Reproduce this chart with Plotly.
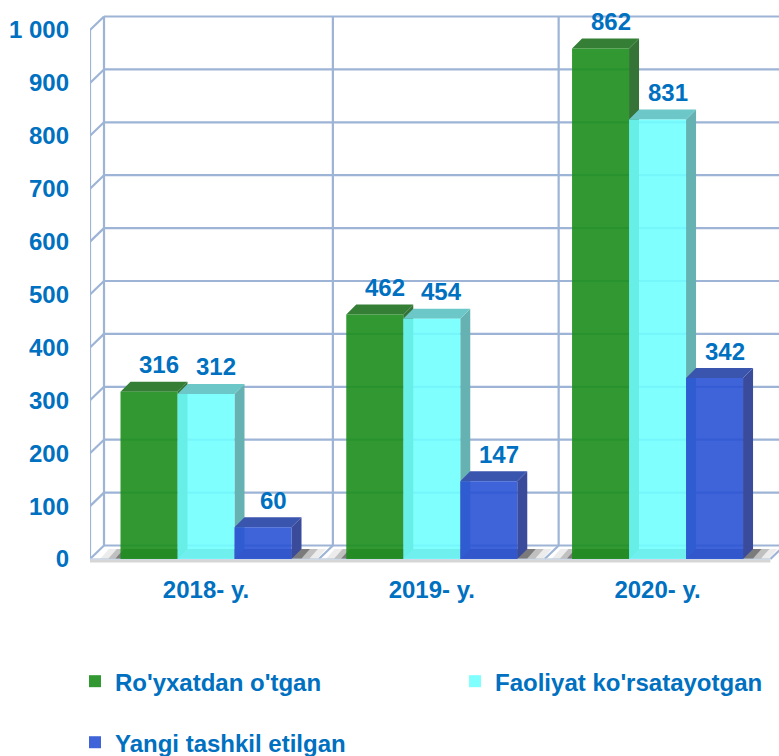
import plotly.graph_objects as go

# ---------------- data ----------------
categories = ["2018- y.", "2019- y.", "2020- y."]
series_names = ["Ro'yxatdan o'tgan", "Faoliyat ko'rsatayotgan", "Yangi tashkil etilgan"]

# bar heights as drawn in the picture
registered = [316, 462, 965]
active = [312, 454, 831]
new_created = [60, 147, 342]

# data labels as printed in the picture
registered_labels = ["316", "462", "862"]
active_labels = ["312", "454", "831"]
new_labels = ["60", "147", "342"]

y_ticks = [0, 100, 200, 300, 400, 500, 600, 700, 800, 900, 1000]
y_tick_text = ["0", "100", "200", "300", "400", "500", "600", "700", "800", "900", "1 000"]

# ---------------- styling / geometry ----------------
TEXT_COLOR = "#0070C0"
GRID_COLOR = "#9DB4D6"
FONT = "Liberation Sans, Arial, sans-serif"
FS = 24

W, H = 779, 756
M_L, M_R, M_T, M_B = 90, 0, 5, 191
X_RANGE = [-0.5138, 2.538]
Y_RANGE = [-11.34, 1047.3]
px_x = (W - M_L - M_R) / (X_RANGE[1] - X_RANGE[0])
px_y = (H - M_T - M_B) / (Y_RANGE[1] - Y_RANGE[0])

BAR_W = 57 / px_x
BAR_GAP = 1 - 3 * BAR_W
bdx, bdy = 10 / px_x, 10 / px_y          # bar depth
wdx, wdy = 14 / px_x, 13.5 / px_y        # wall depth

series = [
    dict(name=series_names[0], vals=registered, labels=registered_labels,
         front="rgba(28,142,28,0.9)", top="#347E36", side="#367336", legend="legend"),
    dict(name=series_names[1], vals=active, labels=active_labels,
         front="rgba(110,255,255,0.88)", top="#6CC8C8", side="#66B2B2", legend="legend2"),
    dict(name=series_names[2], vals=new_created, labels=new_labels,
         front="rgba(42,82,212,0.9)", top="#3A55AE", side="#3B4B9C", legend="legend3"),
]

fig = go.Figure()
shapes = []
annotations = []


def path(points):
    return "M " + " L ".join(f"{x},{y}" for x, y in points) + " Z"


def line(x0, y0, x1, y1, color=GRID_COLOR, width=2.2, layer="below"):
    shapes.append(dict(type="line", xref="x", yref="y", x0=x0, y0=y0, x1=x1, y1=y1,
                       line=dict(color=color, width=width), layer=layer))


xmin, xmax = X_RANGE
xbl = xmin + wdx
top_v = y_ticks[-1]

# back wall horizontal grid + left wall diagonals
for v in y_ticks:
    line(xbl, v + wdy, xmax, v + wdy)
    line(xmin, v, xbl, v + wdy)
# left wall verticals
line(xmin, 0, xmin, top_v)
line(xbl, wdy, xbl, top_v + wdy)
# back wall category dividers
for i in range(len(categories) - 1):
    line(i + 0.5 + wdx, wdy, i + 0.5 + wdx, top_v + wdy)
# floor
for i in range(len(categories)):
    line(i + 0.5, 0, i + 0.5 + wdx, wdy)
shapes.append(dict(type="line", xref="x", yref="y", x0=xmin, y0=-2 / px_y,
                   x1=len(categories) - 0.5, y1=-2 / px_y,
                   line=dict(color="#D6D6D6", width=3), layer="below"))
line(xmin, 0, len(categories) - 0.5, 0, color="#C9D3E3", width=1.5)

# floor shadows
for i in range(len(categories)):
    gl = i - 1.5 * BAR_W
    gr = i + 1.5 * BAR_W
    for pad_l, pad_r, col in [(20, 26, "rgba(150,150,150,0.18)"),
                              (12, 18, "rgba(90,90,90,0.3)"),
                              (5, 10, "rgba(40,40,40,0.45)")]:
        a = gl - pad_l / px_x
        b = gr + pad_r / px_x
        shapes.append(dict(type="path", xref="x", yref="y", layer="between",
                           path=path([(a, 1), (b, 1), (b + wdx * 0.6, wdy * 0.75), (a + wdx * 0.6, wdy * 0.75)]),
                           fillcolor=col, line=dict(width=0)))

# bars: front faces via Bar traces, top / side faces as shapes from the same values
for k, s in enumerate(series):
    fig.add_trace(go.Bar(
        x=list(range(len(categories))), y=s["vals"], name=s["name"],
        marker=dict(color=s["front"], line=dict(width=0)),
        legend=s["legend"], hoverinfo="skip",
    ))
    for i, v in enumerate(s["vals"]):
        xl = i + (k - 1) * BAR_W - BAR_W / 2
        xr = xl + BAR_W
        shapes.append(dict(type="path", xref="x", yref="y", layer="between",
                           path=path([(xr, 0), (xr + bdx, bdy), (xr + bdx, v + bdy), (xr, v)]),
                           fillcolor=s["side"], line=dict(width=0)))
        shapes.append(dict(type="path", xref="x", yref="y", layer="between",
                           path=path([(xl, v), (xr, v), (xr + bdx, v + bdy), (xl + bdx, v + bdy)]),
                           fillcolor=s["top"], line=dict(width=0)))
        annotations.append(dict(x=(xl + xr) / 2, y=v, xref="x", yref="y", text=s["labels"][i],
                                showarrow=False, xshift=10, yshift=27,
                                font=dict(family=FONT, size=FS, color=TEXT_COLOR, weight="bold")))

legend_font = dict(family=FONT, size=FS, color=TEXT_COLOR, weight="bold")
fig.update_layout(
    width=W, height=H,
    margin=dict(l=M_L, r=M_R, t=M_T, b=M_B, autoexpand=False),
    paper_bgcolor="white", plot_bgcolor="white",
    barmode="group", bargap=BAR_GAP, bargroupgap=0,
    shapes=shapes, annotations=annotations,
    font=dict(family=FONT, size=FS, color=TEXT_COLOR, weight="bold"),
    xaxis=dict(range=X_RANGE, tickvals=list(range(len(categories))), ticktext=categories,
               showgrid=False, zeroline=False, showline=False, ticks="",
               ticklabelstandoff=8, automargin=False,
               tickfont=dict(family=FONT, size=FS, color=TEXT_COLOR, weight="bold")),
    yaxis=dict(range=Y_RANGE, tickvals=y_ticks, ticktext=y_tick_text,
               showgrid=False, zeroline=False, showline=False, ticks="",
               ticklabelstandoff=20, automargin=False,
               tickfont=dict(family=FONT, size=FS, color=TEXT_COLOR, weight="bold")),
    legend=dict(orientation="h", x=-0.0218, xanchor="left", y=-0.168, yanchor="top",
                bgcolor="rgba(0,0,0,0)", font=legend_font),
    legend2=dict(orientation="h", x=0.5298, xanchor="left", y=-0.168, yanchor="top",
                 bgcolor="rgba(0,0,0,0)", font=legend_font),
    legend3=dict(orientation="h", x=-0.0218, xanchor="left", y=-0.277, yanchor="top",
                 bgcolor="rgba(0,0,0,0)", font=legend_font),
    showlegend=True,
)

fig.write_html("out.html", config={"displayModeBar": False},
               post_script="document.body.style.margin='0';document.body.style.padding='0';")
